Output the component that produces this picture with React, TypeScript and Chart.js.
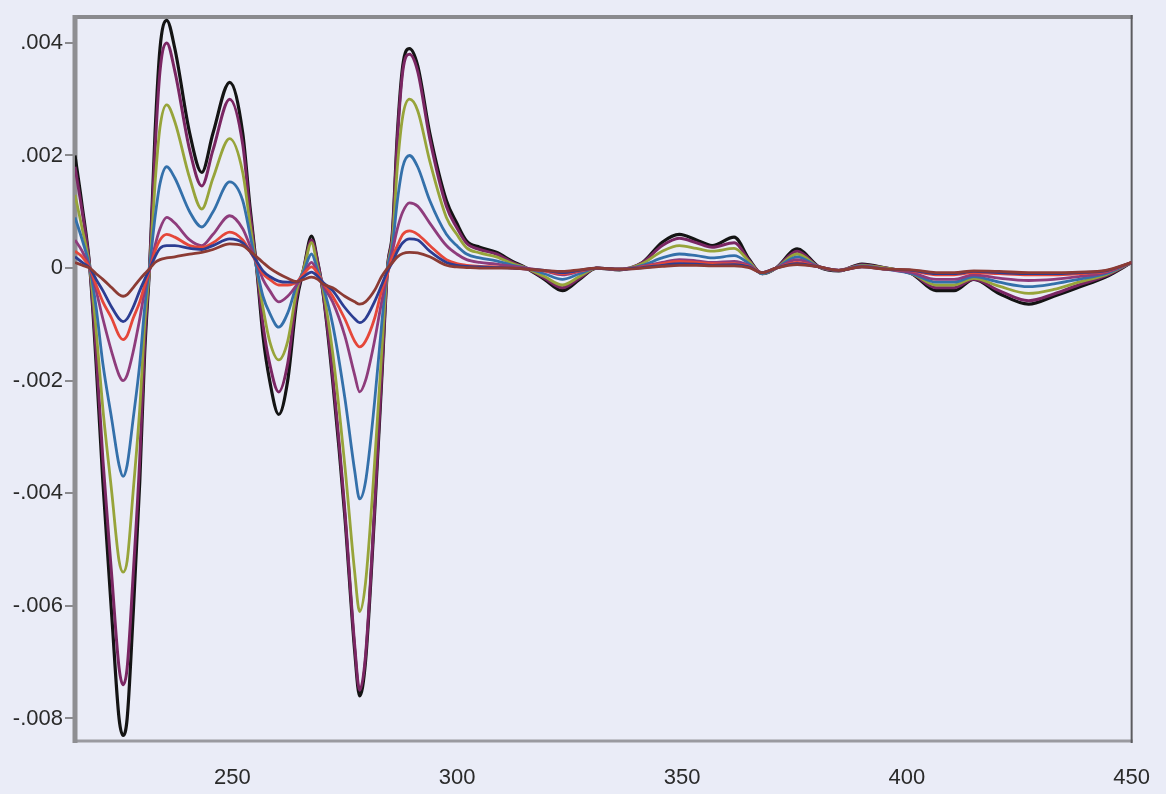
import React, { useEffect, useRef } from 'react';
import { Chart, registerables } from 'chart.js';

Chart.register(...registerables);

// Wavelength (nm) of each sample point
const wavelengths = [
  215.0, 216.6, 218.3, 219.7, 221.2, 223.2, 224.8, 225.7, 226.6, 227.9,
  229.4, 230.5, 231.7, 232.8, 233.9, 235.4, 237.2, 240.5, 243.2, 245.7,
  249.4, 252.3, 253.9, 255.4, 256.8, 258.3, 260.3, 262.3, 264.3, 265.9,
  267.6, 269.0, 270.1, 272.3, 275.0, 277.2, 278.3, 279.6, 281.6, 283.2,
  284.5, 285.6, 286.7, 287.9, 289.4, 291.2, 293.9, 297.6, 299.9, 302.1,
  305.0, 308.7, 312.3, 315.4, 319.4, 323.4, 327.2, 331.0, 336.1, 341.2,
  345.6, 349.4, 353.2, 356.7, 361.6, 364.9, 367.8, 370.9, 375.6, 380.5,
  384.9, 390.0, 395.4, 401.1, 406.5, 410.5, 414.9, 420.5, 427.1, 432.7,
  438.2, 444.2, 450.0,
];

const seriesBrown = [
  0.0001, 0.00005, 0.0, -0.0001, -0.0002, -0.00035, -0.00047, -0.0005, -0.00047, -0.00035,
  -0.0002, -0.0001, 0.0, 0.0001, 0.00015, 0.00018, 0.0002, 0.00025, 0.00028, 0.00033,
  0.00043, 0.0004, 0.0003, 0.0002, 0.0001, 0.0, -0.0001, -0.00018, -0.00024, -0.0002,
  -0.00016, -0.0002, -0.00028, -0.00035, -0.0005, -0.0006, -0.00064, -0.0006, -0.0004, -0.00015,
  0.0, 0.0001, 0.0002, 0.00026, 0.00028, 0.00027, 0.0002, 0.00005, 0.00002, 0.00001,
  0.0, 0.0, 0.0, -0.00002, -0.00004, -0.00006, -0.00003, 0.0, -0.00002, 0.0,
  0.00003, 0.00005, 0.00005, 0.00004, 0.00004, 0.00001, -0.00008, 0.0, 0.00006, 0.00002,
  -0.00004, 0.00002, -0.00002, -0.00003, -0.00008, -0.00008, -0.00005, -0.00006, -0.00008, -0.00008,
  -0.00007, -0.00004, 0.0001,
];

const seriesNavy = [
  0.0002, 0.0001, 0.0, -0.0002, -0.0004, -0.0007, -0.0009, -0.00095, -0.0009, -0.0007,
  -0.0004, -0.0002, 0.0, 0.0002, 0.00035, 0.0004, 0.0004, 0.00035, 0.00033, 0.0004,
  0.00052, 0.00045, 0.0003, 0.00012, -0.00005, -0.00015, -0.00023, -0.00025, -0.00025, -0.00015,
  -0.00007, -0.00015, -0.00025, -0.0004, -0.0007, -0.0009, -0.00097, -0.0009, -0.0006, -0.0003,
  -0.00005, 0.0001, 0.0003, 0.00045, 0.00052, 0.0005, 0.0003, 0.0001, 0.00005, 0.00003,
  0.00002, 0.00001, 0.0, -0.00002, -0.00004, -0.00008, -0.00004, 0.0, -0.00002, 0.00001,
  0.00005, 0.00008, 0.00007, 0.00005, 0.00006, 0.00002, -0.00008, 0.0, 0.00008, 0.00002,
  -0.00004, 0.00002, -0.00002, -0.00004, -0.0001, -0.0001, -0.00006, -0.00008, -0.0001, -0.0001,
  -0.00008, -0.00005, 0.0001,
];

const seriesRed = [
  0.0003, 0.0002, 0.0, -0.0003, -0.0006, -0.0009, -0.0012, -0.00127, -0.0012, -0.0009,
  -0.0006, -0.0003, 0.0, 0.0003, 0.0005, 0.0006, 0.00055, 0.0004, 0.00037, 0.00045,
  0.00064, 0.0005, 0.0003, 0.0001, -0.0001, -0.0002, -0.0003, -0.0003, -0.00025, -0.0001,
  0.00002, -0.0001, -0.00025, -0.0005, -0.0009, -0.0013, -0.0014, -0.0013, -0.0009, -0.0004,
  -0.0001, 0.0002, 0.0004, 0.0006, 0.00066, 0.0006, 0.0004, 0.00015, 0.00008, 0.00005,
  0.00003, 0.00002, 0.0, -0.00002, -0.00005, -0.0001, -0.00005, 0.0, -0.00002, 0.00002,
  0.00008, 0.00012, 0.0001, 0.00008, 0.00008, 0.00003, -0.00008, 0.0, 0.0001, 0.00002,
  -0.00004, 0.00002, -0.00002, -0.00005, -0.00012, -0.00012, -0.00008, -0.0001, -0.00012, -0.00012,
  -0.0001, -0.00006, 0.0001,
];

const seriesPlum = [
  0.0005, 0.0003, 0.0, -0.0004, -0.0009, -0.0015, -0.0019, -0.002, -0.0019, -0.0015,
  -0.0009, -0.0004, 0.0, 0.0004, 0.0007, 0.0009, 0.0008, 0.0005, 0.0004, 0.0006,
  0.00093, 0.0007, 0.0004, 0.0001, -0.0002, -0.0004, -0.0006, -0.0005, -0.0003, -0.0001,
  0.0001, -0.0001, -0.0003, -0.0006, -0.0012, -0.0019, -0.0022, -0.002, -0.0013, -0.0006,
  -0.0001, 0.0003, 0.0007, 0.001, 0.00116, 0.0011, 0.0008, 0.0004, 0.00025, 0.00015,
  0.0001, 0.00007, 0.00003, 0.0, -0.00005, -0.00012, -0.00006, 0.0, -0.00002, 0.00003,
  0.0001, 0.00015, 0.00013, 0.0001, 0.00012, 0.00005, -0.00008, 0.0, 0.00015, 0.00002,
  -0.00004, 0.00003, -0.00002, -0.00008, -0.0002, -0.0002, -0.00012, -0.00018, -0.00022, -0.0002,
  -0.00015, -0.00008, 0.0001,
];

const seriesBlue = [
  0.0009, 0.0005, 0.0, -0.0007, -0.0017, -0.0027, -0.0035, -0.0037, -0.0035, -0.0027,
  -0.0017, -0.0007, 0.0001, 0.0009, 0.0015, 0.0018, 0.0016, 0.001, 0.00073, 0.001,
  0.00153, 0.0012, 0.0006, 0.0, -0.0005, -0.0008, -0.00105, -0.0008, -0.0003, -0.00005,
  0.00025, -0.00005, -0.0003, -0.001, -0.0023, -0.0036, -0.0041, -0.0038, -0.0024, -0.001,
  0.0, 0.0004, 0.0012, 0.0018, 0.002, 0.0018, 0.0012, 0.0006, 0.0004, 0.00025,
  0.00018, 0.00013, 0.00005, 0.0, -0.0001, -0.0002, -0.0001, 0.0, -0.00002, 0.00005,
  0.00018, 0.00025, 0.00022, 0.00018, 0.00022, 0.00008, -0.0001, 0.0, 0.0002, 0.00002,
  -0.00004, 0.00004, -0.00002, -0.0001, -0.00025, -0.00025, -0.00015, -0.00025, -0.00033, -0.00028,
  -0.0002, -0.0001, 0.0001,
];

const seriesOlive = [
  0.0013, 0.0007, 0.0, -0.0011, -0.0025, -0.004, -0.0052, -0.0054, -0.0052, -0.004,
  -0.0025, -0.001, 0.0001, 0.0015, 0.0025, 0.0029, 0.0026, 0.0016, 0.00105, 0.0016,
  0.0023, 0.0017, 0.0008, 0.0, -0.0007, -0.0013, -0.00163, -0.0013, -0.0004, 0.0,
  0.00045, 0.0, -0.00035, -0.0015, -0.0035, -0.0054, -0.0061, -0.0056, -0.0035, -0.0015,
  0.0, 0.0005, 0.0018, 0.0027, 0.003, 0.0028, 0.0019, 0.0009, 0.0006, 0.00036,
  0.00027, 0.0002, 0.00008, 0.0, -0.00015, -0.0003, -0.00015, 0.0, -0.00002, 0.00008,
  0.0003, 0.0004, 0.00035, 0.0003, 0.00035, 0.00012, -0.0001, 0.0, 0.00025, 0.00002,
  -0.00004, 0.00005, 0.0, -0.0001, -0.0003, -0.0003, -0.00018, -0.00032, -0.00045, -0.00038,
  -0.00025, -0.00012, 0.0001,
];

const seriesMagenta = [
  0.0018, 0.001, 0.0, -0.0015, -0.0034, -0.0055, -0.0071, -0.0074, -0.0071, -0.0055,
  -0.0034, -0.0013, 0.0002, 0.0021, 0.0035, 0.004, 0.0035, 0.0021, 0.00146, 0.0021,
  0.003, 0.0022, 0.001, 0.0, -0.001, -0.0017, -0.0022, -0.0017, -0.0005, 0.0,
  0.0005, 0.0001, -0.0004, -0.0019, -0.0043, -0.0067, -0.0075, -0.0069, -0.0043, -0.0019,
  0.0, 0.0006, 0.0023, 0.0035, 0.0038, 0.0035, 0.0023, 0.0011, 0.00072, 0.00044,
  0.00033, 0.00025, 0.0001, 0.0, -0.00018, -0.00035, -0.00018, 0.0, -0.00002, 0.0001,
  0.0004, 0.00053, 0.00045, 0.00037, 0.00045, 0.00014, -0.0001, 0.0, 0.0003, 0.00002,
  -0.00004, 0.00006, 0.0, -0.0001, -0.00035, -0.00035, -0.0002, -0.0004, -0.00058, -0.00046,
  -0.0003, -0.00014, 0.0001,
];

const seriesBlack = [
  0.002, 0.0011, 0.0, -0.0017, -0.0038, -0.0062, -0.008, -0.0083, -0.008, -0.0062,
  -0.0038, -0.0015, 0.0002, 0.0024, 0.0039, 0.0044, 0.0039, 0.0024, 0.0017, 0.0024,
  0.0033, 0.0024, 0.0011, 0.0, -0.0012, -0.002, -0.0026, -0.002, -0.0006, 0.0,
  0.00057, 0.0001, -0.0004, -0.002, -0.0044, -0.0068, -0.0076, -0.007, -0.0044, -0.002,
  0.0, 0.00064, 0.0024, 0.0036, 0.0039, 0.0036, 0.0024, 0.0012, 0.0008, 0.00048,
  0.00037, 0.00028, 0.00012, 0.0, -0.0002, -0.0004, -0.0002, 0.0, -0.00003, 0.0001,
  0.00046, 0.0006, 0.0005, 0.0004, 0.00055, 0.00016, -0.0001, 0.0, 0.00034, 0.00002,
  -0.00005, 0.00007, 0.0, -0.0001, -0.0004, -0.0004, -0.0002, -0.00045, -0.00064, -0.0005,
  -0.00034, -0.00016, 0.0001,
];

const seriesValues = [
  seriesBrown, seriesNavy, seriesRed, seriesPlum,
  seriesBlue, seriesOlive, seriesMagenta, seriesBlack,
];
const seriesNames = ['S1', 'S2', 'S3', 'S4', 'S5', 'S6', 'S7', 'S8'];
const seriesColors = [
  '#8c3b34', '#2c3d92', '#e5473a', '#8e3c7c',
  '#3470aa', '#97a43a', '#7a2663', '#141414',
];
const seriesWidths = [2.8, 2.8, 2.8, 2.8, 2.8, 2.8, 3, 3.2];

const xTickValues = [250, 300, 350, 400, 450];
const xTickLabels = ['250', '300', '350', '400', '450'];
const yTickValues = [0.004, 0.002, 0, -0.002, -0.004, -0.006, -0.008];
const yTickLabels = ['.004', '.002', '0', '-.002', '-.004', '-.006', '-.008'];

const BG = '#eaecf7';
const FONT = "Arial, 'Liberation Sans', sans-serif";

const framePlugin = {
  id: 'frame',
  beforeDatasetsDraw(chart: any) {
    const { ctx, chartArea: a } = chart;
    ctx.save();
    ctx.lineCap = 'butt';
    const seg = (x1: number, y1: number, x2: number, y2: number, w: number, c: string) => {
      ctx.beginPath();
      ctx.strokeStyle = c;
      ctx.lineWidth = w;
      ctx.moveTo(x1, y1);
      ctx.lineTo(x2, y2);
      ctx.stroke();
    };
    seg(a.left - 2, a.top, a.right + 1, a.top, 4, '#8a8a8e');
    seg(a.left - 2, a.bottom, a.right + 1, a.bottom, 3, '#9a9aa0');
    seg(a.left, a.top - 2, a.left, a.bottom + 2, 5, '#8e8e92');
    seg(a.right, a.top - 2, a.right, a.bottom + 2, 2, '#5c5c60');
    ctx.restore();
  },
};

export default function App() {
  const canvasRef = useRef<HTMLCanvasElement | null>(null);

  useEffect(() => {
    document.body.style.margin = '0';
    document.body.style.background = BG;
    const canvas = canvasRef.current;
    if (!canvas) return;
    const chart = new Chart(canvas, {
      type: 'line',
      data: {
        datasets: seriesValues.map((vals, i) => ({
          label: seriesNames[i],
          data: wavelengths.map((x, j) => ({ x, y: vals[j] })),
          borderColor: seriesColors[i],
          backgroundColor: seriesColors[i],
          borderWidth: seriesWidths[i],
          pointRadius: 0,
          fill: false,
          cubicInterpolationMode: 'monotone' as const,
        })),
      },
      options: {
        animation: false,
        responsive: false,
        maintainAspectRatio: false,
        layout: { padding: { top: 17, right: 33, left: 0, bottom: 0 } },
        plugins: {
          legend: { display: false },
          tooltip: { enabled: false },
        },
        scales: {
          x: {
            type: 'linear',
            min: 215,
            max: 450,
            afterBuildTicks: (s: any) => {
              s.ticks = xTickValues.map((v) => ({ value: v }));
            },
            afterFit: (s: any) => {
              s.height = 53;
            },
            grid: { display: false },
            border: { display: false },
            ticks: {
              autoSkip: false,
              maxRotation: 0,
              padding: 16,
              color: '#2a2a2a',
              font: { family: FONT, size: 22 },
              callback: (_v: any, i: number) => xTickLabels[i],
            },
          },
          y: {
            type: 'linear',
            min: -0.0084,
            max: 0.00446,
            afterBuildTicks: (s: any) => {
              s.ticks = yTickValues.map((v) => ({ value: v }));
            },
            afterFit: (s: any) => {
              s.width = 75;
            },
            grid: {
              drawOnChartArea: false,
              drawTicks: true,
              tickLength: 10,
              color: '#8a8a8e',
              lineWidth: 2,
            },
            border: { display: false },
            ticks: {
              padding: 2,
              color: '#2a2a2a',
              font: { family: FONT, size: 22 },
              callback: (_v: any, i: number) => yTickLabels[i],
            },
          },
        },
      },
      plugins: [framePlugin],
    });
    return () => chart.destroy();
  }, []);

  return (
    <div style={{ width: 1166, height: 794, background: BG }}>
      <canvas ref={canvasRef} width={1166} height={794} style={{ display: 'block' }} />
    </div>
  );
}
